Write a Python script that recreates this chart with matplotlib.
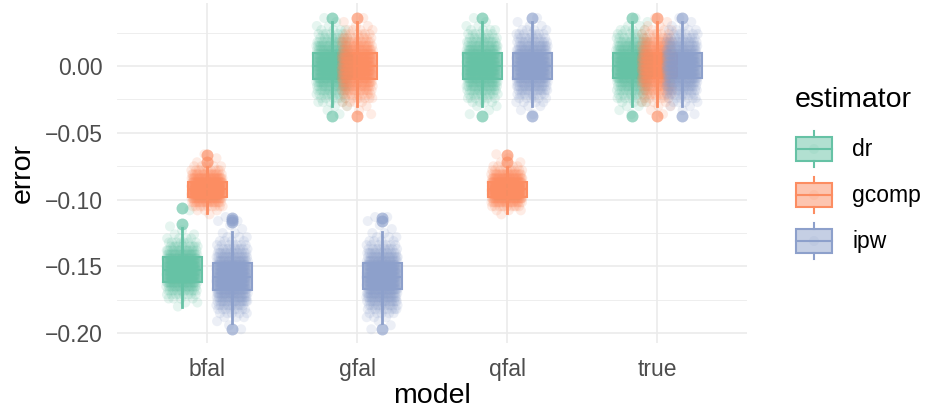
import matplotlib
matplotlib.use("Agg")
import matplotlib.pyplot as plt
from matplotlib.patches import Rectangle
from matplotlib.lines import Line2D
from matplotlib.colors import to_rgba

# ---------------- data ----------------
models = ["bfal", "gfal", "qfal", "true"]
estimators = ["dr", "gcomp", "ipw"]
colors = {"dr": "#66C2A5", "gcomp": "#FC8D62", "ipw": "#8DA0CB"}

# box statistics per estimator across models
dr_med = [-0.1527, 0.0002, 0.0002, 0.0002]
dr_q1 = [-0.1614, -0.0097, -0.0097, -0.0092]
dr_q3 = [-0.1433, 0.0095, 0.0095, 0.0098]
dr_wlo = [-0.1800, -0.0297, -0.0297, -0.0297]
dr_whi = [-0.1213, 0.0330, 0.0330, 0.0330]
dr_out = [[-0.1185, -0.1065], [0.0357, -0.0372], [0.0357, -0.0372], [0.0360, -0.0372]]

gcomp_med = [-0.0920, 0.0002, -0.0922, 0.0002]
gcomp_q1 = [-0.0978, -0.0097, -0.0983, -0.0092]
gcomp_q3 = [-0.0866, 0.0095, -0.0866, 0.0098]
gcomp_wlo = [-0.1100, -0.0297, -0.1100, -0.0297]
gcomp_whi = [-0.0754, 0.0330, -0.0754, 0.0330]
gcomp_out = [[-0.0716, -0.0666], [0.0357, -0.0372], [-0.0716, -0.0666], [0.0360, -0.0372]]

ipw_med = [-0.1577, -0.1577, 0.0002, 0.0002]
ipw_q1 = [-0.1677, -0.1669, -0.0097, -0.0092]
ipw_q3 = [-0.1472, -0.1477, 0.0095, 0.0098]
ipw_wlo = [-0.1920, -0.1926, -0.0297, -0.0297]
ipw_whi = [-0.1240, -0.1240, 0.0330, 0.0330]
ipw_out = [[-0.1135, -0.1155, -0.1170, -0.1968], [-0.1135, -0.1160, -0.1968],
           [0.0357, -0.0372], [0.0360, -0.0372]]

# jittered observations, estimated as value bins and counts of points per bin
bins_zero = [-0.036, -0.033, -0.030, -0.027, -0.024, -0.021, -0.018, -0.015, -0.012,
             -0.009, -0.006, -0.003, 0.000, 0.003, 0.006, 0.009, 0.012, 0.015, 0.018,
             0.021, 0.024, 0.027, 0.030, 0.033, 0.036]
counts_gfal_dr = [1, 1, 2, 4, 6, 9, 13, 17, 21, 25, 27, 29, 30, 29, 27, 25, 21, 17, 13, 9, 6, 4, 2, 1, 1]
counts_gfal_gcomp = [1, 1, 2, 4, 7, 9, 14, 17, 22, 24, 28, 29, 29, 30, 27, 24, 21, 17, 13, 9, 6, 4, 2, 1, 1]
counts_qfal_dr = [1, 1, 2, 4, 6, 10, 13, 18, 21, 24, 28, 30, 29, 28, 27, 25, 22, 16, 13, 9, 6, 4, 2, 1, 1]
counts_qfal_ipw = [1, 1, 2, 4, 6, 9, 14, 17, 20, 25, 27, 30, 30, 29, 26, 25, 21, 18, 12, 9, 7, 4, 2, 1, 1]
counts_true_dr = [1, 1, 2, 4, 7, 9, 13, 16, 21, 26, 27, 29, 31, 29, 27, 24, 21, 17, 13, 9, 6, 4, 2, 1, 1]
counts_true_gcomp = [1, 1, 2, 4, 6, 9, 13, 17, 22, 25, 28, 29, 30, 28, 27, 25, 21, 17, 14, 9, 6, 4, 2, 1, 1]
counts_true_ipw = [1, 1, 2, 4, 6, 10, 13, 17, 21, 25, 27, 29, 30, 30, 26, 25, 20, 17, 13, 9, 6, 4, 2, 1, 1]

bins_bfal_dr = [-0.180, -0.177, -0.174, -0.171, -0.168, -0.165, -0.162, -0.159, -0.156,
                -0.153, -0.150, -0.147, -0.144, -0.141, -0.138, -0.135, -0.132, -0.129,
                -0.126, -0.123, -0.120, -0.108]
counts_bfal_dr = [1, 2, 4, 8, 13, 20, 27, 32, 36, 38, 37, 33, 28, 22, 16, 10, 7, 4, 2, 1, 1, 1]

bins_gcomp_low = [-0.111, -0.108, -0.105, -0.102, -0.099, -0.096, -0.093, -0.090,
                  -0.087, -0.084, -0.081, -0.078, -0.075, -0.072, -0.069, -0.066]
counts_bfal_gcomp = [1, 3, 9, 20, 34, 49, 59, 56, 46, 32, 19, 10, 5, 2, 1, 1]
counts_qfal_gcomp = [1, 3, 10, 21, 35, 50, 57, 55, 45, 31, 20, 10, 5, 2, 1, 1]

bins_ipw_low = [-0.197, -0.194, -0.191, -0.188, -0.185, -0.182, -0.179, -0.176, -0.173,
                -0.170, -0.167, -0.164, -0.161, -0.158, -0.155, -0.152, -0.149, -0.146,
                -0.143, -0.140, -0.137, -0.134, -0.131, -0.128, -0.125, -0.122, -0.119,
                -0.116, -0.113]
counts_bfal_ipw = [1, 1, 1, 3, 5, 8, 12, 17, 21, 25, 28, 31, 33, 33, 32, 30, 27, 23, 19, 14,
                   10, 7, 4, 3, 2, 1, 1, 2, 1]
counts_gfal_ipw = [1, 1, 1, 3, 5, 9, 12, 17, 22, 24, 29, 31, 32, 34, 31, 30, 26, 23, 20, 14,
                   10, 7, 4, 3, 2, 1, 1, 1, 2]

clouds = {
    ("bfal", "dr"): (bins_bfal_dr, counts_bfal_dr),
    ("bfal", "gcomp"): (bins_gcomp_low, counts_bfal_gcomp),
    ("bfal", "ipw"): (bins_ipw_low, counts_bfal_ipw),
    ("gfal", "dr"): (bins_zero, counts_gfal_dr),
    ("gfal", "gcomp"): (bins_zero, counts_gfal_gcomp),
    ("gfal", "ipw"): (bins_ipw_low, counts_gfal_ipw),
    ("qfal", "dr"): (bins_zero, counts_qfal_dr),
    ("qfal", "gcomp"): (bins_gcomp_low, counts_qfal_gcomp),
    ("qfal", "ipw"): (bins_zero, counts_qfal_ipw),
    ("true", "dr"): (bins_zero, counts_true_dr),
    ("true", "gcomp"): (bins_zero, counts_true_gcomp),
    ("true", "ipw"): (bins_zero, counts_true_ipw),
}
stats_src = {
    "dr": (dr_med, dr_q1, dr_q3, dr_wlo, dr_whi, dr_out),
    "gcomp": (gcomp_med, gcomp_q1, gcomp_q3, gcomp_wlo, gcomp_whi, gcomp_out),
    "ipw": (ipw_med, ipw_q1, ipw_q3, ipw_wlo, ipw_whi, ipw_out),
}

# ---------------- style ----------------
W, H, DPI = 925, 415, 100
plt.rcParams["font.family"] = ["Liberation Sans", "DejaVu Sans"]
fig = plt.figure(figsize=(W / DPI, H / DPI), dpi=DPI)
ax = fig.add_axes([117 / W, 1 - 343 / H, (747 - 117) / W, (343 - 3) / H])

offsets = {"dr": -1 / 6, "gcomp": 0.0, "ipw": 1 / 6}
box_w = 0.26
jit_w = 0.105
grid_c = "#EBEBEB"

ax.set_xlim(-0.6, 3.6)
ax.set_ylim(-0.2073, 0.0472)
for s in ax.spines.values():
    s.set_visible(False)
yt = [-0.20, -0.15, -0.10, -0.05, 0.00]
ax.set_yticks(yt)
ax.set_yticks([-0.175, -0.125, -0.075, -0.025, 0.025], minor=True)
ax.set_yticklabels([f"{v:.2f}".replace("-", "\u2212") for v in yt])
ax.set_xticks(range(len(models)))
ax.set_xticklabels(models)
ax.tick_params(axis="both", which="both", length=0, labelsize=16.5, labelcolor="#4D4D4D")
ax.tick_params(axis="y", pad=10.5)
ax.tick_params(axis="x", pad=10.5)
ax.grid(True, which="major", color=grid_c, lw=1.2)
ax.grid(True, which="minor", axis="y", color=grid_c, lw=0.6)
ax.set_axisbelow(True)
ax.set_xlabel("model", fontsize=20.5, labelpad=2)
ax.set_ylabel("error", fontsize=20.5, labelpad=6)

# boxes (all boxes first, in estimator order)
for est in estimators:
    med, q1, q3, wlo, whi, outs = stats_src[est]
    c = colors[est]
    bstats = [dict(med=med[i], q1=q1[i], q3=q3[i], whislo=wlo[i], whishi=whi[i], fliers=outs[i])
              for i in range(len(models))]
    pos = [i + offsets[est] for i in range(len(models))]
    ax.bxp(bstats, positions=pos, widths=box_w, patch_artist=True, showcaps=False,
           manage_ticks=False,
           boxprops=dict(facecolor=to_rgba(c, 0.6), edgecolor=c, lw=1.5),
           medianprops=dict(color=c, lw=1.5),
           whiskerprops=dict(color=c, lw=2.0),
           flierprops=dict(marker="o", markersize=8.6, markerfacecolor=to_rgba(c, 0.65),
                           markeredgecolor="none"),
           zorder=2)

# jittered points (deterministic horizontal spread)
golden = 0.6180339887
for est in estimators:
    c = colors[est]
    for i, m in enumerate(models):
        bins, counts = clouds[(m, est)]
        xs, ys = [], []
        n = 0
        for yv, cnt in zip(bins, counts):
            for _ in range(cnt):
                frac = (n * golden + 0.37 * (i + 1) + 0.21 * estimators.index(est)) % 1.0
                xs.append(i + offsets[est] + jit_w * (2 * frac - 1))
                ys.append(yv)
                n += 1
        ax.scatter(xs, ys, s=52, color=c, alpha=0.16, edgecolors="none", zorder=3)

# legend drawn in pixel coordinates
lg = fig.add_axes([0, 0, 1, 1])
lg.set_xlim(0, W)
lg.set_ylim(H, 0)
lg.axis("off")
lg.patch.set_alpha(0)
lg.text(795, 107, "estimator", fontsize=20.5, va="baseline", ha="left")
key_c = [149, 195, 241]
for est, yc in zip(estimators, key_c):
    c = colors[est]
    lg.add_patch(Rectangle((796, yc - 12), 36, 24, facecolor=to_rgba(c, 0.5), edgecolor=c, lw=1.5))
    lg.add_line(Line2D([796, 832], [yc, yc], color=c, lw=1.5))
    lg.add_line(Line2D([814, 814], [yc - 18, yc - 12], color=c, lw=1.5))
    lg.add_line(Line2D([814, 814], [yc + 12, yc + 18], color=c, lw=1.5))
    lg.scatter([814], [yc], s=52, color=c, alpha=0.12, edgecolors="none")
    lg.text(852, yc, est, fontsize=16.5, va="center", ha="left")

fig.savefig("out.png", dpi=DPI)
